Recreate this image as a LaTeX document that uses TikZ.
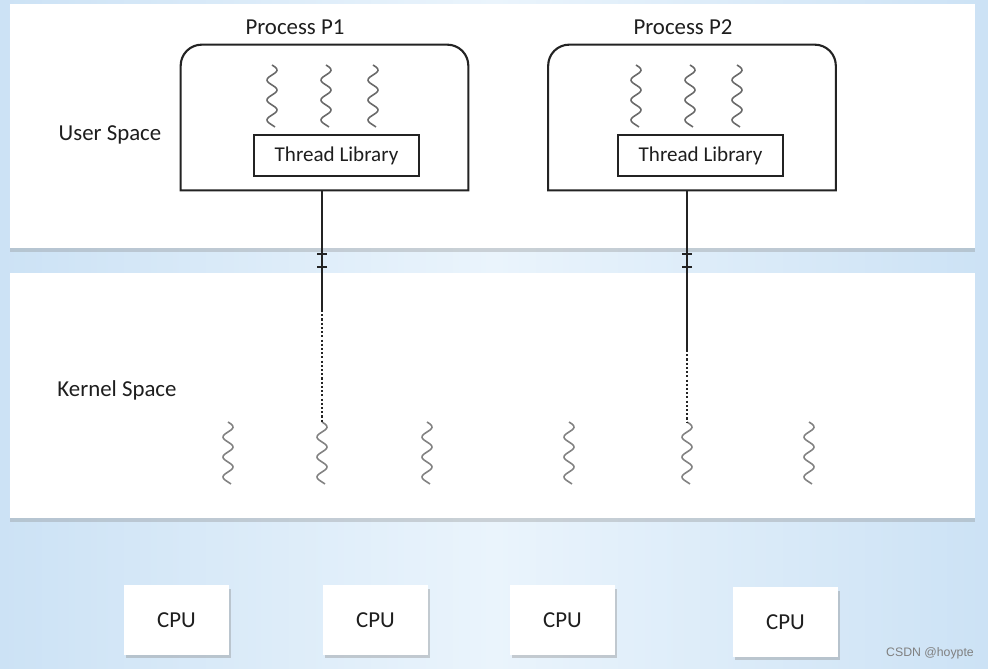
\documentclass[tikz,border=0pt]{standalone}
\usepackage{fontspec}
\setmainfont{Carlito}
\newfontfamily\marquefont{Liberation Sans}
\usetikzlibrary{positioning,shadows,arrows.meta}
\definecolor{fondbleu}{RGB}{204,226,245}
\definecolor{fondclair}{RGB}{234,244,252}
\definecolor{trait}{RGB}{35,35,35}
\definecolor{fil}{RGB}{105,105,105}
\definecolor{filnoyau}{RGB}{130,130,130}
\definecolor{texte}{RGB}{30,30,30}

\begin{document}
\begin{tikzpicture}[x=0.02cm, y=0.02cm,
    panneau/.style={fill=white, inner sep=0pt, minimum width=19.3cm,
        drop shadow={shadow xshift=0pt, shadow yshift=-0.08cm, opacity=0.3}},
    processus/.style={inner sep=0pt, minimum width=5.74cm, minimum height=2.9cm},
    cadre/.style={draw=trait, line width=1.2pt},
    biblio/.style={draw=trait, line width=0.8pt, fill=white, minimum width=3.3cm,
        minimum height=0.82cm, text=texte, font=\fontsize{12}{14}\selectfont},
    titre/.style={text=texte, font=\fontsize{13}{15}\selectfont},
    cpu/.style={fill=white, minimum width=2.1cm, minimum height=1.4cm, text=texte,
        font=\fontsize{13}{15}\selectfont,
        drop shadow={shadow xshift=0.04cm, shadow yshift=-0.07cm, opacity=0.35}},
    connecteur/.style={draw=trait, line width=0.8pt},
    pointille/.style={connecteur, dash pattern=on 1.2pt off 1.2pt},
    barre/.style={draw=trait, line width=0.8pt, {Bar[width=0.2cm]}-{Bar[width=0.2cm]}},
    marque/.style={text=gray, font=\marquefont\fontsize{7}{8}\selectfont},
    thread/.pic={
        \coordinate (-top) at (0,0);
        \draw[pic actions, line width=0.9pt] plot[variable=\t, domain=0:62, samples=70, smooth]
            ({5*sin(\t*18)}, {-\t});
        \coordinate (-bot) at (0,-62);
    }]
    % Fond
    \useasboundingbox (0,0) rectangle (988,669);
    \shade [left color=fondbleu, right color=fondbleu, middle color=fondclair] (0,0) rectangle (988,669);

    % Espace utilisateur (haut)
    \node [panneau, minimum height=4.88cm] (user) at (492.5,543) {};
    \node [titre] (us) at (110,534) {User Space};

    \node [processus] (P1) at (324.5,551.5) {};
    \node [processus] (P2) at (692,551.5) {};
    \foreach \p in {P1,P2}
        \draw [cadre] (\p.south west) -- ([yshift=-0.42cm]\p.north west)
            arc [start angle=180, end angle=90, radius=0.42cm]
            -- ([xshift=-0.42cm]\p.north east)
            arc [start angle=90, end angle=0, radius=0.42cm]
            -- (\p.south east) -- cycle;
    \node [titre] (tP1) at (295,642) {Process P1};
    \node [titre] (tP2) at (683,642) {Process P2};

    \node [biblio] (L1) at (336.5,513.5) {Thread Library};
    \node [biblio] (L2) at (700.5,513.5) {Thread Library};

    % Threads utilisateur
    \foreach \px [count=\i] in {272,326,373}
        \pic [color=fil] (u1\i) at (\px,604) {thread};
    \foreach \px [count=\i] in {636,690,737}
        \pic [color=fil] (u2\i) at (\px,604) {thread};

    % Espace noyau (milieu)
    \node [panneau, minimum height=4.9cm] (kernel) at (492.5,273.5) {};
    \node [titre] (ks) at (117,279) {Kernel Space};

    % Threads noyau
    \foreach \px [count=\i] in {228,322,427,569,687,809}
        \pic [color=filnoyau] (k\i) at (\px,247) {thread};

    % Liaisons processus -> threads noyau
    \coordinate (b1) at (322,359);
    \coordinate (b2) at (687,319);
    \draw [connecteur] (P1.south -| k2-top) -- (b1);
    \draw [pointille] (b1) -- (k2-top);
    \draw [connecteur] (P2.south -| k5-top) -- (b2);
    \draw [pointille] (b2) -- (k5-top);
    \draw [barre] ([yshift=-0.1cm]user.south -| k2-top) -- ([yshift=0.1cm]kernel.north -| k2-top);
    \draw [barre] ([yshift=-0.1cm]user.south -| k5-top) -- ([yshift=0.1cm]kernel.north -| k5-top);

    % Processeurs (bas)
    \node [cpu] (c1) at (176.5,49) {CPU};
    \node [cpu] (c2) at (375.5,49) {CPU};
    \node [cpu] (c3) at (562.5,49) {CPU};
    \node [cpu] (c4) at (785.5,47) {CPU};

    \node [marque] (wm) at (930,16) {CSDN @hoypte};
\end{tikzpicture}
\end{document}
